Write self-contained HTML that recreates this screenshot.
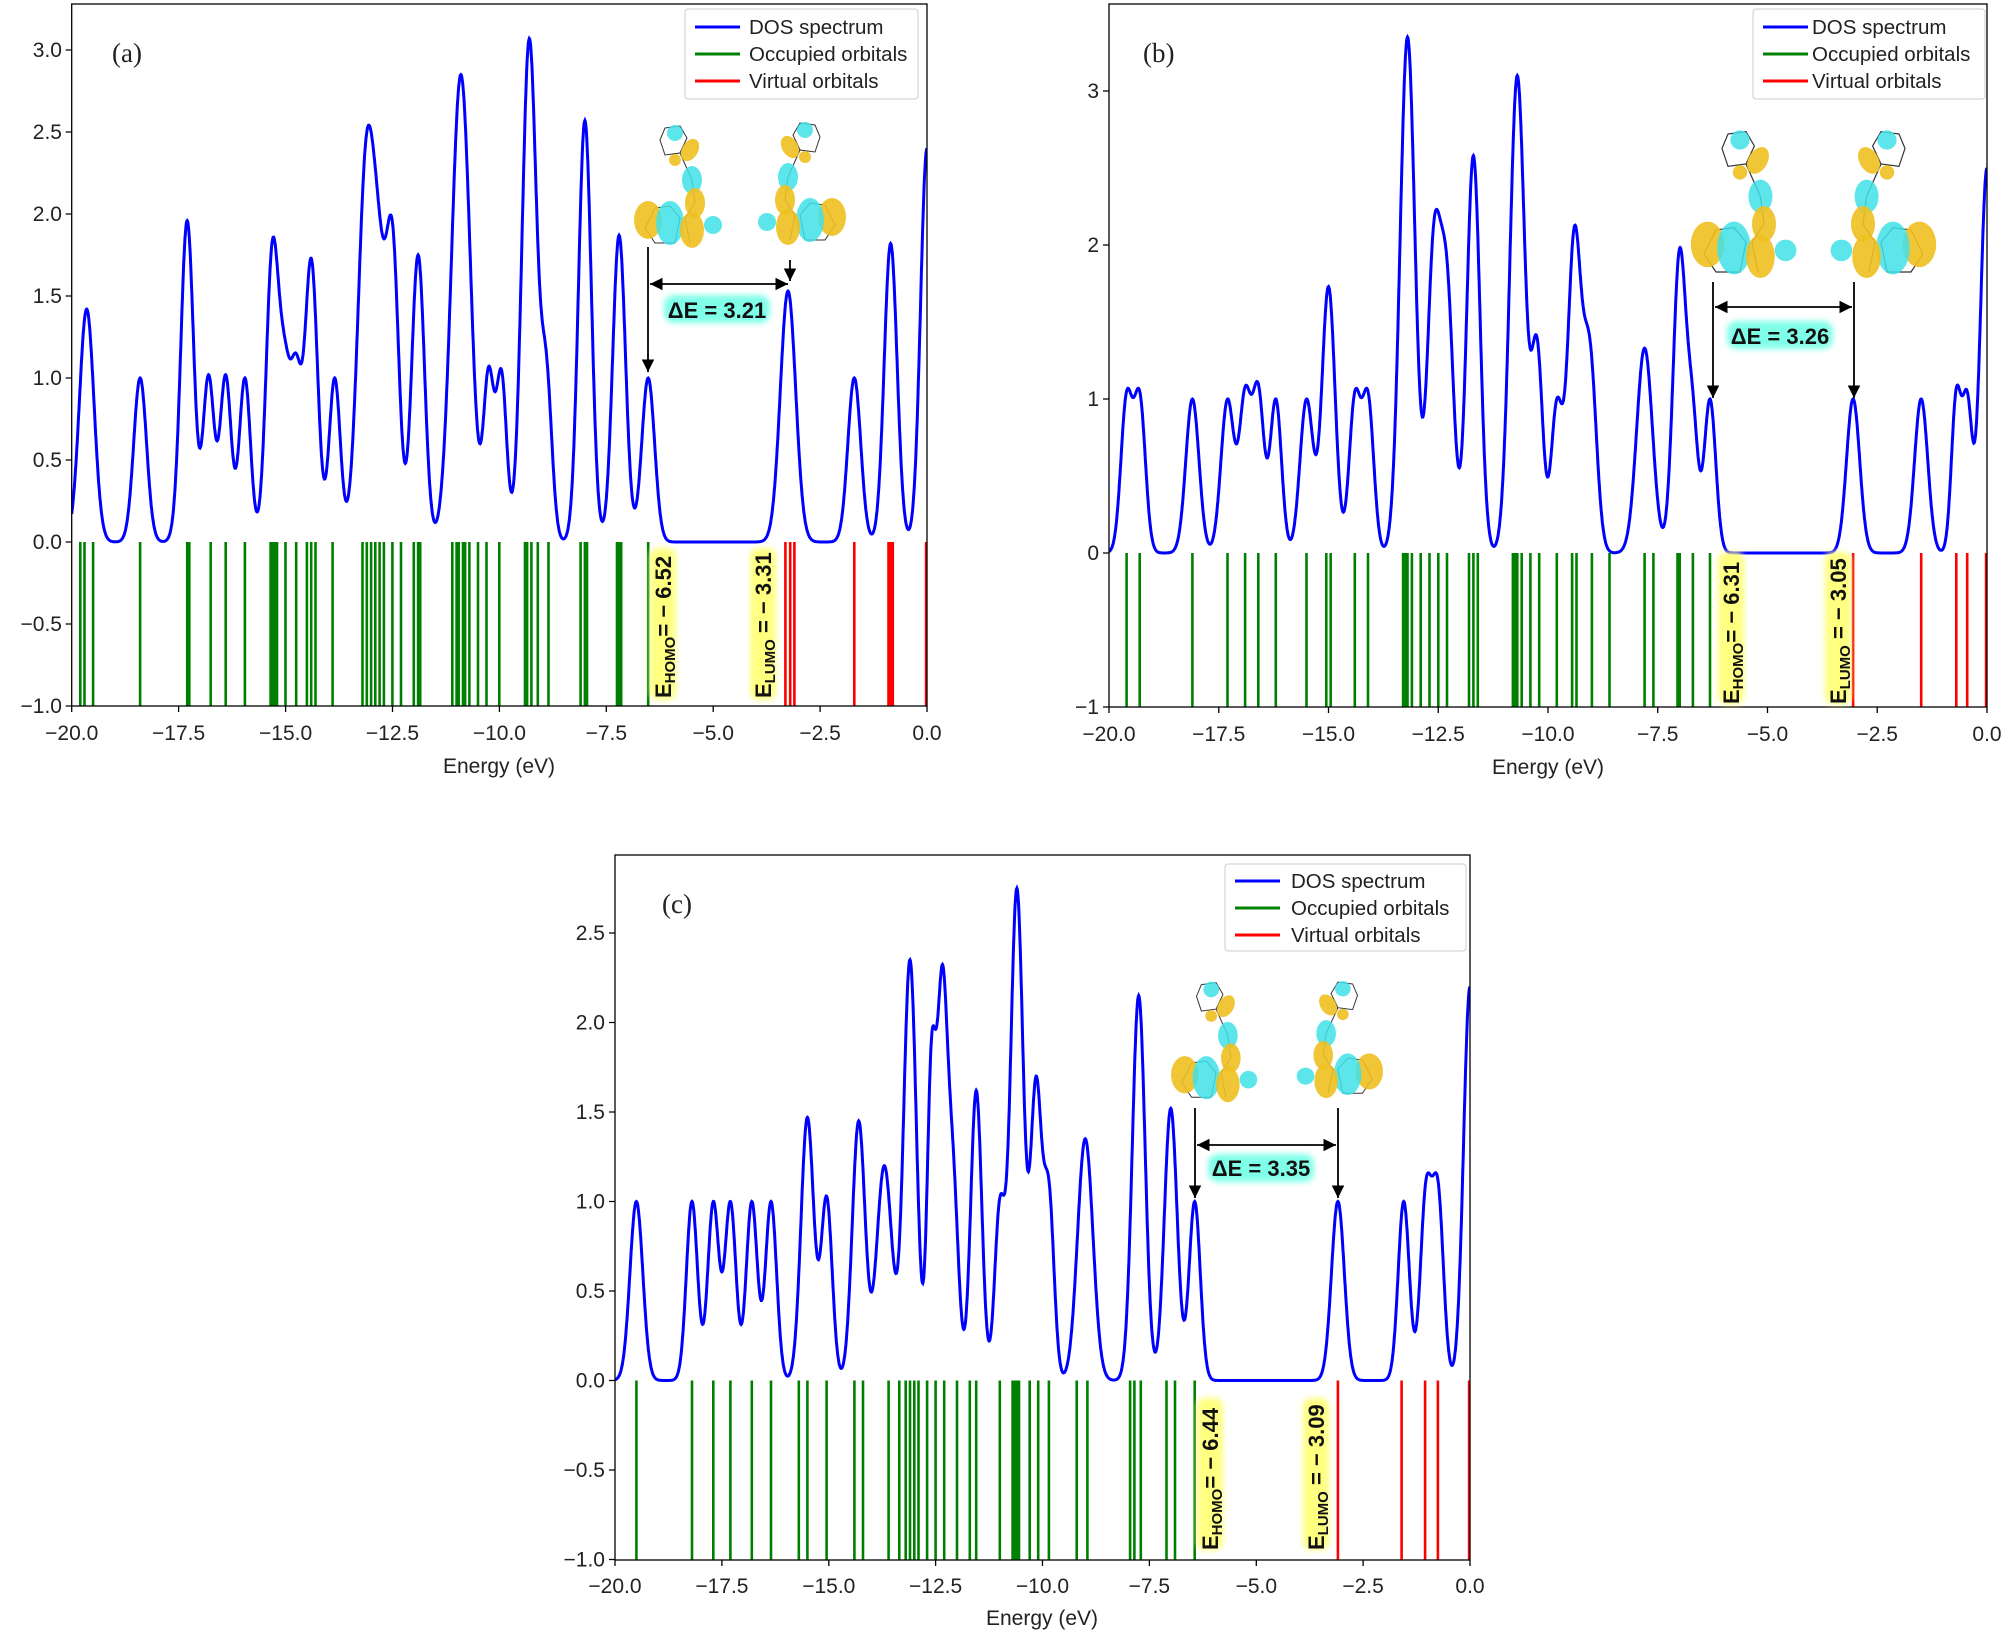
<!DOCTYPE html>
<html><head><meta charset="utf-8">
<style>
html,body{margin:0;padding:0;background:#fff;}
svg{display:block;font-family:"Liberation Sans",sans-serif;}
.tk{font-size:21px;fill:#222;}
.lg{font-size:20.5px;fill:#222;}
.ax{fill:none;stroke:#000;stroke-width:1.3;}
.pl{font-family:"Liberation Serif",serif;font-size:27px;fill:#222;}
.an{font-size:22px;font-weight:bold;fill:#111;}
</style></head><body>
<svg id="s" width="2008" height="1631" viewBox="0 0 2008 1631" xmlns="http://www.w3.org/2000/svg">
<defs>
<marker id="ah" viewBox="0 0 10 10" refX="10" refY="5" markerWidth="7" markerHeight="7" orient="auto-start-reverse"><path d="M0,0 L10,5 L0,10 z" fill="#000"/></marker>
<filter id="bl" x="-20%" y="-20%" width="140%" height="140%"><feGaussianBlur stdDeviation="3"/></filter>
<g id="mol">
<g stroke="#333" stroke-width="1" fill="none"><path d="M30,20 L45,18 L52,30 L45,45 L30,47 L25,32 Z M45,45 L57,72 L60,95 L50,110 L55,135 M20,100 L35,98 L45,110 L40,135 L20,135 L10,120 Z"/></g>
<circle cx="40" cy="25" r="8" fill="#40e0e8" opacity=".85"/>
<ellipse cx="55" cy="42" rx="8" ry="12" transform="rotate(30 55 42)" fill="#f0c020" opacity=".9"/>
<circle cx="40" cy="52" r="6" fill="#f0c020" opacity=".9"/>
<ellipse cx="57" cy="72" rx="10" ry="14" fill="#40e0e8" opacity=".85"/>
<ellipse cx="60" cy="95" rx="10" ry="15" fill="#f0c020" opacity=".9"/>
<ellipse cx="13" cy="112" rx="14" ry="19" fill="#f0c020" opacity=".9"/>
<ellipse cx="35" cy="115" rx="14" ry="22" fill="#40e0e8" opacity=".85"/>
<ellipse cx="57" cy="122" rx="12" ry="18" fill="#f0c020" opacity=".9"/>
<circle cx="78" cy="117" r="9" fill="#40e0e8" opacity=".85"/>
</g>
<clipPath id="ca"><rect x="71.7" y="4" width="855.3" height="702"/></clipPath>
<clipPath id="cb"><rect x="1109" y="4" width="878" height="703"/></clipPath>
<clipPath id="cc"><rect x="615" y="855" width="855" height="705"/></clipPath>
</defs>

<!-- PANEL A -->
<g id="ga" clip-path="url(#ca)"></g>
<rect class="ax" x="71.7" y="4" width="855.3" height="702"/>
<g class="tk" text-anchor="end">
<text x="62" y="57">3.0</text><text x="62" y="139">2.5</text><text x="62" y="221">2.0</text><text x="62" y="303">1.5</text><text x="62" y="385">1.0</text><text x="62" y="467">0.5</text><text x="62" y="549">0.0</text><text x="62" y="631">−0.5</text><text x="62" y="713">−1.0</text>
</g>
<g stroke="#000" stroke-width="1.3"><path d="M71.7,50h-6M71.7,132h-6M71.7,214h-6M71.7,296h-6M71.7,378h-6M71.7,460h-6M71.7,542h-6M71.7,624h-6M71.7,706h-6 M71.7,706v6M178.6,706v6M285.6,706v6M392.5,706v6M499.4,706v6M606.3,706v6M713.2,706v6M820.1,706v6M927,706v6"/></g>
<g class="tk" text-anchor="middle">
<text x="71.7" y="740">−20.0</text><text x="178.6" y="740">−17.5</text><text x="285.6" y="740">−15.0</text><text x="392.5" y="740">−12.5</text><text x="499.4" y="740">−10.0</text><text x="606.3" y="740">−7.5</text><text x="713.2" y="740">−5.0</text><text x="820.1" y="740">−2.5</text><text x="927" y="740">0.0</text>
</g>
<text class="tk" x="499" y="773" text-anchor="middle" font-size="23">Energy (eV)</text>
<text class="pl" x="112" y="62">(a)</text>
<rect x="685" y="9" width="233" height="90" rx="3" fill="#fff" stroke="#ccc"/>
<path d="M695,27h45" stroke="#0000ff" stroke-width="3"/><path d="M695,54h45" stroke="#008000" stroke-width="3"/><path d="M695,81h45" stroke="#ff0000" stroke-width="3"/>
<g class="lg"><text x="749" y="34">DOS spectrum</text><text x="749" y="61">Occupied orbitals</text><text x="749" y="88">Virtual orbitals</text></g>
<use href="#mol" x="635" y="108"/>
<use href="#mol" transform="translate(845,105) scale(-1,1)"/>
<g stroke="#000" stroke-width="1.8" fill="none">
<path d="M648,247V372" marker-end="url(#ah)"/><path d="M650,284H788" marker-start="url(#ah)" marker-end="url(#ah)"/><path d="M790,260V281" marker-end="url(#ah)"/>
</g>
<rect x="664" y="295" width="106" height="28" rx="10" fill="#80ffe8" filter="url(#bl)"/>
<text class="an" x="717" y="318" text-anchor="middle">ΔE = 3.21</text>
<rect x="650" y="548" width="26" height="152" rx="8" fill="#ffff80" filter="url(#bl)"/>
<text class="an" transform="translate(671,698) rotate(-90)">E<tspan dy="4" font-size="15">HOMO</tspan><tspan dy="-4">= − 6.52</tspan></text>
<rect x="750" y="548" width="26" height="152" rx="8" fill="#ffff80" filter="url(#bl)"/>
<text class="an" transform="translate(771,698) rotate(-90)">E<tspan dy="4" font-size="15">LUMO</tspan><tspan dy="-4"> = − 3.31</tspan></text>

<!-- PANEL B -->
<g id="gb" clip-path="url(#cb)"></g>
<rect class="ax" x="1109" y="4" width="878" height="703"/>
<g class="tk" text-anchor="end">
<text x="1099" y="98">3</text><text x="1099" y="252">2</text><text x="1099" y="406">1</text><text x="1099" y="560">0</text><text x="1099" y="714">−1</text>
</g>
<g stroke="#000" stroke-width="1.3"><path d="M1109,91h-6M1109,245h-6M1109,399h-6M1109,553h-6M1109,707h-6 M1109,707v6M1218.75,707v6M1328.5,707v6M1438.25,707v6M1548,707v6M1657.75,707v6M1767.5,707v6M1877.25,707v6M1987,707v6"/></g>
<g class="tk" text-anchor="middle">
<text x="1109" y="741">−20.0</text><text x="1218.75" y="741">−17.5</text><text x="1328.5" y="741">−15.0</text><text x="1438.25" y="741">−12.5</text><text x="1548" y="741">−10.0</text><text x="1657.75" y="741">−7.5</text><text x="1767.5" y="741">−5.0</text><text x="1877.25" y="741">−2.5</text><text x="1987" y="741">0.0</text>
</g>
<text class="tk" x="1548" y="774" text-anchor="middle" font-size="23">Energy (eV)</text>
<text class="pl" x="1143" y="62">(b)</text>
<rect x="1753" y="9" width="232" height="90" rx="3" fill="#fff" stroke="#ccc"/>
<path d="M1763,27h45" stroke="#0000ff" stroke-width="3"/><path d="M1763,54h45" stroke="#008000" stroke-width="3"/><path d="M1763,81h45" stroke="#ff0000" stroke-width="3"/>
<g class="lg"><text x="1812" y="34">DOS spectrum</text><text x="1812" y="61">Occupied orbitals</text><text x="1812" y="88">Virtual orbitals</text></g>
<use href="#mol" transform="translate(1692,110) scale(1.2)"/>
<use href="#mol" transform="translate(1935,110) scale(-1.2,1.2)"/>
<g stroke="#000" stroke-width="1.8" fill="none">
<path d="M1713,282V398" marker-end="url(#ah)"/><path d="M1715,307H1852" marker-start="url(#ah)" marker-end="url(#ah)"/><path d="M1854,282V398" marker-end="url(#ah)"/>
</g>
<rect x="1727" y="321" width="106" height="28" rx="10" fill="#80ffe8" filter="url(#bl)"/>
<text class="an" x="1780" y="344" text-anchor="middle">ΔE = 3.26</text>
<rect x="1718" y="552" width="26" height="152" rx="8" fill="#ffff80" filter="url(#bl)"/>
<text class="an" transform="translate(1739,704) rotate(-90)">E<tspan dy="4" font-size="15">HOMO</tspan><tspan dy="-4">= − 6.31</tspan></text>
<rect x="1825" y="552" width="26" height="152" rx="8" fill="#ffff80" filter="url(#bl)"/>
<text class="an" transform="translate(1846,704) rotate(-90)">E<tspan dy="4" font-size="15">LUMO</tspan><tspan dy="-4"> = − 3.05</tspan></text>

<!-- PANEL C -->
<g id="gc" clip-path="url(#cc)"></g>
<rect class="ax" x="615" y="855" width="855" height="705"/>
<g class="tk" text-anchor="end">
<text x="605" y="940">2.5</text><text x="605" y="1029.5">2.0</text><text x="605" y="1119">1.5</text><text x="605" y="1208.5">1.0</text><text x="605" y="1298">0.5</text><text x="605" y="1387.5">0.0</text><text x="605" y="1477">−0.5</text><text x="605" y="1566.5">−1.0</text>
</g>
<g stroke="#000" stroke-width="1.3"><path d="M615,933h-6M615,1022.5h-6M615,1112h-6M615,1201.5h-6M615,1291h-6M615,1380.5h-6M615,1470h-6M615,1559.5h-6 M615,1560v6M721.9,1560v6M828.8,1560v6M935.6,1560v6M1042.5,1560v6M1149.4,1560v6M1256.3,1560v6M1363.1,1560v6M1470,1560v6"/></g>
<g class="tk" text-anchor="middle">
<text x="615" y="1593">−20.0</text><text x="721.9" y="1593">−17.5</text><text x="828.8" y="1593">−15.0</text><text x="935.6" y="1593">−12.5</text><text x="1042.5" y="1593">−10.0</text><text x="1149.4" y="1593">−7.5</text><text x="1256.3" y="1593">−5.0</text><text x="1363.1" y="1593">−2.5</text><text x="1470" y="1593">0.0</text>
</g>
<text class="tk" x="1042" y="1625" text-anchor="middle" font-size="23">Energy (eV)</text>
<text class="pl" x="662" y="913">(c)</text>
<rect x="1225" y="864" width="241" height="87" rx="3" fill="#fff" stroke="#ccc"/>
<path d="M1235,881h45" stroke="#0000ff" stroke-width="3"/><path d="M1235,908h45" stroke="#008000" stroke-width="3"/><path d="M1235,935h45" stroke="#ff0000" stroke-width="3"/>
<g class="lg"><text x="1291" y="888">DOS spectrum</text><text x="1291" y="915">Occupied orbitals</text><text x="1291" y="942">Virtual orbitals</text></g>
<use href="#mol" transform="translate(1172,965) scale(0.98)"/>
<use href="#mol" transform="translate(1382,965) scale(-0.98,0.95)"/>
<g stroke="#000" stroke-width="1.8" fill="none">
<path d="M1195,1108V1198" marker-end="url(#ah)"/><path d="M1197,1145H1336" marker-start="url(#ah)" marker-end="url(#ah)"/><path d="M1338,1108V1198" marker-end="url(#ah)"/>
</g>
<rect x="1208" y="1154" width="106" height="28" rx="10" fill="#80ffe8" filter="url(#bl)"/>
<text class="an" x="1261" y="1176" text-anchor="middle">ΔE = 3.35</text>
<rect x="1197" y="1398" width="26" height="152" rx="8" fill="#ffff80" filter="url(#bl)"/>
<text class="an" transform="translate(1218,1550) rotate(-90)">E<tspan dy="4" font-size="15">HOMO</tspan><tspan dy="-4">= − 6.44</tspan></text>
<rect x="1303" y="1398" width="26" height="152" rx="8" fill="#ffff80" filter="url(#bl)"/>
<text class="an" transform="translate(1324,1550) rotate(-90)">E<tspan dy="4" font-size="15">LUMO</tspan><tspan dy="-4"> = − 3.09</tspan></text>
</svg>
<script>
var NS="http://www.w3.org/2000/svg";
function dos(P,E){var s=0;for(var i=0;i<P.length;i++){var p=P[i],d=E-p[0];s+=p[3]*Math.exp(-d*d/(2*p[2]*p[2]));}return s;}
function draw(id,L,R,y0,u,P,occ,vir){
 for(var i=0;i<P.length;i++)P[i][3]=P[i][1];
 for(var k=0;k<80;k++)for(var i=0;i<P.length;i++){var f=dos(P,P[i][0]);P[i][3]=Math.max(0,P[i][3]*Math.pow(P[i][1]/f,0.6));}
 var g=document.getElementById(id),sx=(R-L)/20,d="";
 function ln(E,c){var x=L+(E+20)*sx;var l=document.createElementNS(NS,"path");l.setAttribute("d","M"+x.toFixed(1)+","+y0+"V"+(y0+u));l.setAttribute("stroke",c);l.setAttribute("stroke-width","2.6");g.appendChild(l);}
 occ.forEach(function(e){ln(e,"#008000")});vir.forEach(function(e){ln(e,"#ff0000")});
 for(var E=-20;E<=0.0001;E+=0.01){var x=L+(E+20)*sx,y=y0-dos(P,E)*u;d+=(d?"L":"M")+x.toFixed(1)+","+y.toFixed(1);}
 var p=document.createElementNS(NS,"path");p.setAttribute("d",d);p.setAttribute("fill","none");p.setAttribute("stroke","#0000ff");p.setAttribute("stroke-width","3");g.appendChild(p);
}
draw("ga",71.7,927,542,164,
[[-19.65,1.42,.17],[-18.4,1,.15],[-17.3,1.96,.15],[-16.8,1.02,.13],[-16.4,1.02,.13],[-15.95,1.0,.13],[-15.3,1.85,.15],[-15.0,1.22,.13],[-14.75,1.15,.12],[-14.4,1.73,.15],[-13.85,1.0,.13],[-13.1,2.5,.2],[-12.8,2.0,.15],[-12.5,1.95,.15],[-11.9,1.75,.15],[-10.9,2.85,.22],[-10.25,1.07,.12],[-9.95,1.05,.12],[-9.3,3.07,.17],[-8.9,1.15,.13],[-8.0,2.57,.15],[-7.2,1.87,.15],[-6.52,1.0,.15],[-3.25,1.53,.18],[-1.7,1.0,.15],[-0.85,1.82,.15],[0,2.4,.15]],
[-19.8,-19.7,-19.5,-18.4,-17.3,-17.25,-16.75,-16.4,-15.95,-15.35,-15.3,-15.25,-15.2,-15.0,-14.75,-14.5,-14.4,-14.3,-13.9,-13.2,-13.1,-13.0,-12.9,-12.8,-12.7,-12.5,-12.3,-12.0,-11.9,-11.85,-11.1,-11.0,-10.95,-10.85,-10.8,-10.7,-10.5,-10.3,-10.0,-9.4,-9.35,-9.25,-9.1,-8.85,-8.1,-8.0,-7.95,-7.25,-7.2,-7.15,-6.52],
[-3.31,-3.2,-3.1,-1.7,-0.9,-0.85,-0.8,-0.02]);
draw("gb",1109,1987,553,154,
[[-19.6,1.05,.13],[-19.3,1.05,.13],[-18.1,1,.15],[-17.3,1,.15],[-16.9,1.08,.13],[-16.6,1.1,.13],[-16.2,1.0,.13],[-15.5,1,.15],[-15.0,1.73,.15],[-14.4,1.05,.13],[-14.1,1.05,.13],[-13.2,3.35,.17],[-12.6,2.15,.15],[-12.3,1.9,.15],[-11.7,2.58,.15],[-10.7,3.1,.17],[-10.25,1.4,.13],[-9.8,1.0,.13],[-9.4,2.12,.15],[-9.05,1.4,.15],[-7.8,1.33,.18],[-7.0,1.98,.15],[-6.7,1.05,.12],[-6.31,1.0,.13],[-3.05,1,.15],[-1.5,1,.15],[-0.7,1.07,.11],[-0.45,1.05,.11],[0,2.5,.15]],
[-19.6,-19.3,-18.1,-17.3,-16.9,-16.6,-16.2,-15.5,-15.05,-14.95,-14.4,-14.1,-13.3,-13.25,-13.2,-13.1,-12.9,-12.7,-12.5,-12.3,-11.8,-11.7,-11.6,-10.8,-10.75,-10.7,-10.6,-10.4,-10.2,-9.8,-9.45,-9.35,-9.0,-8.6,-7.8,-7.6,-7.05,-7.0,-6.7,-6.31],
[-3.05,-1.5,-0.7,-0.45,-0.02]);
draw("gc",615,1470,1380.5,179,
[[-19.5,1,.15],[-18.2,1,.13],[-17.7,1,.13],[-17.3,1,.13],[-16.8,1,.13],[-16.35,1,.13],[-15.5,1.47,.15],[-15.05,1.03,.13],[-14.3,1.45,.15],[-13.7,1.2,.18],[-13.1,2.35,.15],[-12.6,1.9,.1],[-12.35,2.32,.12],[-12.1,1.35,.13],[-11.55,1.62,.13],[-11.0,1.02,.12],[-10.6,2.75,.15],[-10.15,1.7,.13],[-9.85,1.12,.12],[-9.0,1.35,.18],[-7.75,2.15,.15],[-7.0,1.52,.15],[-6.44,1,.13],[-3.09,1,.15],[-1.55,1,.13],[-1.03,1.12,.13],[-0.75,1.12,.13],[0,2.2,.15]],
[-19.5,-18.2,-17.7,-17.3,-16.8,-16.35,-15.7,-15.5,-15.05,-14.4,-14.2,-13.6,-13.35,-13.2,-13.1,-13.0,-12.9,-12.7,-12.5,-12.3,-12.0,-11.7,-11.55,-11.0,-10.7,-10.65,-10.6,-10.55,-10.3,-10.1,-9.85,-9.2,-8.95,-7.95,-7.85,-7.7,-7.1,-6.9,-6.44],
[-3.09,-1.6,-1.05,-0.75,-0.02]);
</script>
</body></html>
